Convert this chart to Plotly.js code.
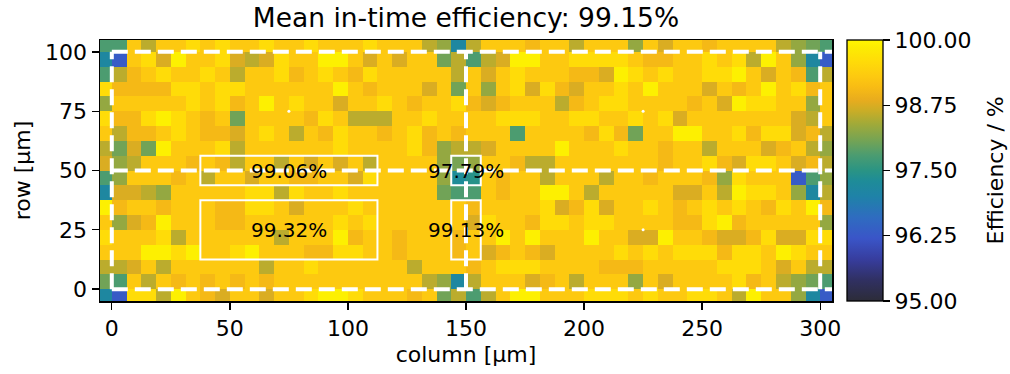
<!DOCTYPE html>
<html>
<head>
<meta charset="utf-8">
<script src="https://cdn.plot.ly/plotly-3.0.1.min.js"></script>
<style>
html,body{margin:0;padding:0;background:#fff;}
#chart{width:1010px;height:374px;}
</style>
</head>
<body>
<div id="chart"></div>
<script>
// Bin geometry (µm): 50 columns x 18 rows of 6.25 µm bins, first bin centred at -3.125
const binSize = 6.25;
const firstCenter = -3.125;

// In-time efficiency [%] per bin, rows listed from bottom (y = -3.125) to top (y = 103.125)
const efficiency = [
[97.15,96.3,99.6,99.6,98.55,99.9,99.3,99.05,98.75,99.3,99.3,98.75,99.3,99.3,99.6,99.9,99.9,99.6,99.3,99.3,99.3,99.05,99.3,98.05,98.55,97.8,98.55,99.3,99.9,99.9,99.3,99.3,99.3,99.6,99.6,99.6,99.3,99.6,99.3,99.3,99.6,99.6,99.3,98.55,99.9,99.3,99.3,98.3,97.15,96.3],
[98.05,97.8,99.3,98.55,99.3,99.05,99.3,99.05,99.3,99.05,99.3,99.05,99.3,99.3,99.3,99.3,99.3,99.3,99.3,99.3,99.3,99.3,98.55,98.3,97.15,98.55,99.3,99.3,99.3,98.75,99.05,99.3,98.55,99.3,99.3,99.3,98.3,99.3,98.75,99.3,99.3,99.3,99.3,99.6,99.05,99.3,98.55,98.3,98.05,97.8],
[98.55,98.55,98.75,99.3,98.55,99.3,99.3,99.3,99.3,99.3,99.3,98.55,99.3,99.3,99.6,99.3,99.3,99.3,99.3,99.3,99.3,98.55,99.3,99.3,99.3,99.05,99.3,99.6,99.6,99.6,99.3,99.3,99.3,99.3,99.05,99.05,99.05,99.3,99.3,99.3,99.3,99.3,99.6,99.6,99.6,99.3,98.75,99.3,98.55,98.55],
[99.3,99.3,99.3,99.9,99.9,99.6,99.9,99.3,99.3,99.6,99.9,99.3,99.3,99.3,99.05,99.05,99.6,99.6,99.3,99.3,99.05,99.3,99.3,99.3,99.05,99.3,98.75,99.05,99.3,99.05,98.75,99.3,99.3,99.3,99.3,99.6,99.3,99.6,99.3,99.6,99.6,99.6,99.05,99.6,99.6,99.3,99.9,99.6,99.3,99.3],
[99.6,99.3,99.3,99.3,99.6,98.55,99.3,99.3,99.3,99.3,99.3,99.3,98.55,99.3,99.3,99.3,99.9,99.05,99.3,99.3,99.05,99.3,99.3,99.3,99.05,99.3,99.3,99.9,99.3,99.9,99.3,99.3,99.3,99.9,99.3,99.3,98.75,98.75,99.9,99.3,99.3,99.05,98.75,98.75,99.05,99.6,98.75,98.75,99.6,99.6],
[99.3,98.3,98.75,99.05,99.9,99.3,99.3,99.3,99.05,99.05,99.3,99.3,99.3,99.3,99.3,99.3,99.6,99.3,99.6,99.3,99.3,99.3,99.3,99.3,99.3,98.75,99.6,99.3,99.3,99.05,99.6,99.6,99.3,99.6,99.6,99.3,99.3,99.3,99.3,99.05,99.05,99.6,99.9,99.05,99.3,99.3,99.3,99.3,99.3,98.3],
[99.9,99.05,99.3,99.3,99.05,99.3,99.3,99.3,99.05,99.05,99.6,99.6,99.3,98.75,99.3,99.3,99.3,99.6,99.3,99.3,99.3,99.3,99.3,99.3,99.3,99.05,99.3,99.3,99.3,99.3,99.6,98.75,99.05,99.6,98.75,99.3,99.3,99.6,99.3,99.05,99.3,99.6,99.3,99.6,99.3,99.05,99.6,99.3,99.9,99.05],
[97.15,98.75,98.75,98.55,98.3,99.3,99.3,99.3,99.3,99.3,99.6,99.6,98.55,99.6,99.3,99.3,99.6,99.3,99.3,99.3,99.3,99.3,99.3,98.05,97.8,97.8,99.3,99.05,99.3,99.3,99.9,99.9,99.3,98.55,99.3,99.3,99.3,99.3,99.3,98.75,98.75,99.3,98.55,99.9,99.6,99.6,99.3,98.3,97.15,98.55],
[97.8,98.3,99.3,99.3,99.3,99.05,99.3,98.55,99.3,99.3,98.75,99.3,99.3,99.05,99.05,99.3,99.3,98.75,99.6,99.3,99.3,99.3,99.3,98.3,97.3,97.45,99.3,99.05,99.3,99.3,98.55,99.3,99.3,99.3,98.55,99.3,99.3,99.05,99.3,99.3,99.3,99.05,98.3,99.6,99.3,99.3,99.3,96.3,97.8,98.3],
[98.75,98.3,98.55,99.3,99.3,99.3,99.05,99.3,99.05,98.55,99.3,99.3,98.55,99.3,98.75,99.3,98.75,99.3,98.55,99.3,99.3,99.3,99.3,98.3,98.1,98.3,99.3,99.3,99.05,98.55,98.55,99.3,99.3,99.3,99.3,99.3,99.3,99.3,99.05,99.3,99.3,99.6,99.05,98.75,99.6,99.6,99.3,98.75,99.05,98.55],
[98.55,98.05,98.75,98.05,99.9,99.3,99.3,99.3,99.6,98.55,99.3,99.3,99.3,99.3,99.3,99.3,99.6,99.3,99.3,99.3,99.3,99.6,99.05,98.3,98.55,98.55,98.75,99.3,99.3,99.3,99.3,99.9,99.3,99.3,99.3,99.6,99.3,99.3,99.05,99.3,99.3,98.55,99.3,99.3,99.3,98.75,99.05,99.3,98.55,98.3],
[99.3,98.55,99.05,99.05,99.3,99.6,99.3,99.05,99.05,98.75,99.3,99.6,99.3,98.55,99.3,99.05,99.6,99.3,99.3,99.05,99.3,99.6,99.05,99.3,99.05,99.3,99.3,99.3,97.8,99.3,99.3,99.3,99.3,99.05,99.6,99.05,98.05,99.3,99.3,99.9,99.9,99.3,99.3,99.6,99.05,99.6,99.6,98.75,99.05,98.55],
[99.6,99.05,99.05,99.6,99.9,99.6,99.3,99.05,99.3,98.05,99.3,99.3,99.3,99.3,99.05,99.6,99.3,98.55,98.55,98.55,99.3,99.3,99.6,99.3,99.3,99.3,99.3,99.6,99.6,99.6,99.3,99.3,99.6,99.6,99.3,99.3,99.6,99.3,99.6,98.75,99.3,99.3,99.3,99.3,99.3,99.3,99.3,98.75,98.55,99.3],
[98.3,99.3,99.3,99.3,99.3,99.3,99.6,99.3,99.6,99.05,99.3,99.9,99.3,99.6,99.3,99.3,98.75,99.3,99.3,99.6,99.3,99.05,99.3,99.3,99.6,99.05,98.75,99.05,99.3,99.3,99.3,98.55,99.05,99.3,99.6,99.6,99.3,99.3,99.3,99.3,99.05,99.3,98.75,99.9,99.6,99.6,99.3,99.3,98.3,99.3],
[99.6,99.05,99.05,99.05,99.05,99.6,99.6,99.3,99.6,99.6,99.3,99.3,99.3,99.3,99.3,99.3,99.9,99.3,99.05,99.3,99.3,99.3,98.75,99.3,98.05,99.3,98.3,99.3,99.6,98.75,99.6,99.05,98.75,99.3,99.3,99.6,99.3,99.9,99.3,99.3,99.3,98.75,99.3,99.05,99.3,99.9,99.3,99.6,99.05,99.3],
[97.8,98.55,99.05,99.3,99.6,99.3,99.3,99.6,99.3,98.55,99.3,99.3,99.6,99.05,99.3,99.6,99.3,99.05,99.6,99.3,99.3,99.3,99.3,99.3,98.55,99.3,98.75,99.3,99.6,99.3,99.3,99.3,99.05,99.05,98.75,99.9,99.6,99.3,99.6,99.3,99.3,99.6,99.6,99.9,99.3,98.75,99.3,99.05,97.8,98.55],
[97.15,96.3,99.3,99.6,98.75,99.9,99.3,99.3,99.6,98.75,98.55,98.75,99.6,99.3,99.3,99.9,99.9,99.3,98.75,99.3,98.75,99.3,99.3,98.05,98.55,97.8,98.55,98.75,99.9,99.9,99.3,99.3,99.6,99.6,99.6,99.6,99.3,99.05,99.05,99.3,99.3,99.6,99.3,99.6,98.55,99.9,99.3,98.3,97.15,96.3],
[97.8,97.8,99.3,98.55,99.3,99.3,99.6,99.3,99.6,99.3,99.3,99.6,99.3,99.3,99.6,99.3,99.3,99.3,99.6,99.3,99.3,99.3,98.55,98.3,97.15,98.55,99.3,99.3,99.3,99.05,99.3,99.3,98.55,99.3,99.3,99.3,98.3,99.3,98.75,99.3,99.3,99.05,99.3,99.3,99.3,99.3,98.55,98.3,98.05,97.8]
];

// Region boxes: [x0, x1, y0, y1] in µm, and their mean efficiency labels
const regionX0 = [37.5, 143.75, 37.5, 143.75];
const regionX1 = [112.5, 156.25, 112.5, 156.25];
const regionY0 = [43.75, 43.75, 12.5, 12.5];
const regionY1 = [56.25, 56.25, 37.5, 37.5];
const regionLabels = ["99.06%", "97.79%", "99.32%", "99.13%"];

// Pixel boundary lines (µm)
const pixelBoundX = [0, 150, 300];
const pixelBoundY = [0, 50, 100];

// Marked points
const markX = [75, 225, 225];
const markY = [75, 75, 25];

const cbTicks = [95, 96.25, 97.5, 98.75, 100];
const cbTickText = ["95.00", "96.25", "97.50", "98.75", "100.00"];

const colorscale = [
  [0.00, '#2c2c38'],
  [0.08, '#303062'],
  [0.16, '#373d9e'],
  [0.24, '#3a55c8'],
  [0.32, '#2f6cc0'],
  [0.40, '#1f82a8'],
  [0.46, '#1e8c98'],
  [0.50, '#2a9484'],
  [0.56, '#4c9c70'],
  [0.62, '#78a452'],
  [0.68, '#a2aa38'],
  [0.73, '#cbad26'],
  [0.77, '#e8ac1e'],
  [0.82, '#f8bc14'],
  [0.86, '#fdc910'],
  [0.92, '#ffdc08'],
  [0.97, '#fcec02'],
  [1.00, '#fff700']
];

const FONT = 'DejaVu Sans';
const TICK = 22;

const heat = {
  type: 'heatmap',
  z: efficiency,
  x0: firstCenter, dx: binSize,
  y0: firstCenter, dy: binSize,
  zmin: 95, zmax: 100,
  colorscale: colorscale,
  hoverinfo: 'skip',
  colorbar: {
    x: 1.0205, xanchor: 'left', xpad: 0,
    y: 0.5, yanchor: 'middle', ypad: 0,
    len: 1, lenmode: 'fraction',
    thickness: 36,
    outlinewidth: 1.3, outlinecolor: '#000',
    ticks: 'outside', ticklen: 7, tickwidth: 1.3, tickcolor: '#000',
    tickvals: cbTicks, ticktext: cbTickText,
    tickfont: {family: FONT, size: TICK, color: '#000'}
  }
};

const marks = {
  type: 'scatter', mode: 'markers',
  x: markX, y: markY,
  marker: {color: '#fff', size: 3},
  hoverinfo: 'skip', showlegend: false
};

const shapes = [];
pixelBoundY.forEach(v => shapes.push({type: 'line', xref: 'x', yref: 'y', x0: 0, x1: 306.25, y0: v, y1: v,
  line: {color: '#fff', width: 4, dash: '16px,7px'}}));
pixelBoundX.forEach(v => shapes.push({type: 'line', xref: 'x', yref: 'y', x0: v, x1: v, y0: 0, y1: 100,
  line: {color: '#fff', width: 4, dash: '16px,7px'}}));
regionX0.forEach((v, i) => shapes.push({type: 'rect', xref: 'x', yref: 'y',
  x0: v, x1: regionX1[i], y0: regionY0[i], y1: regionY1[i],
  line: {color: '#fff', width: 2}, fillcolor: 'rgba(0,0,0,0)'}));

const annotations = regionLabels.map((t, i) => ({
  x: (regionX0[i] + regionX1[i]) / 2, y: (regionY0[i] + regionY1[i]) / 2,
  xref: 'x', yref: 'y', text: t, showarrow: false,
  font: {family: FONT, size: 20, color: '#000'}
}));
annotations.push({
  x: 1.2227, y: 0.5, xref: 'paper', yref: 'paper', xanchor: 'center', yanchor: 'middle',
  text: 'Efficiency / %', textangle: -90, showarrow: false,
  font: {family: FONT, size: TICK, color: '#000'}
});

const axisCommon = {
  showgrid: false, zeroline: false,
  showline: true, linecolor: '#000', linewidth: 1.5, mirror: true,
  ticks: 'outside', ticklen: 7, tickwidth: 1.3, tickcolor: '#000',
  tickfont: {family: FONT, size: TICK, color: '#000'}
};

const layout = {
  width: 1010, height: 374,
  margin: {l: 100, r: 178, t: 40, b: 73},
  paper_bgcolor: '#fff', plot_bgcolor: '#fff',
  font: {family: FONT, color: '#000'},
  title: {text: 'Mean in-time efficiency: 99.15%', x: 0.5, xref: 'paper', xanchor: 'center',
          y: 0.952, yref: 'container', yanchor: 'middle',
          font: {family: FONT, size: 26.5, color: '#000'}},
  xaxis: Object.assign({}, axisCommon, {
    range: [-5, 305], tickvals: [0, 50, 100, 150, 200, 250, 300],
    title: {text: 'column [µm]', standoff: 6, font: {family: FONT, size: TICK, color: '#000'}}
  }),
  yaxis: Object.assign({}, axisCommon, {
    range: [-5, 105], tickvals: [0, 25, 50, 75, 100],
    title: {text: 'row [µm]', standoff: 8, font: {family: FONT, size: TICK, color: '#000'}}
  }),
  shapes: shapes,
  annotations: annotations,
  showlegend: false
};

Plotly.newPlot('chart', [heat, marks], layout, {staticPlot: true, displayModeBar: false});
</script>
</body>
</html>
